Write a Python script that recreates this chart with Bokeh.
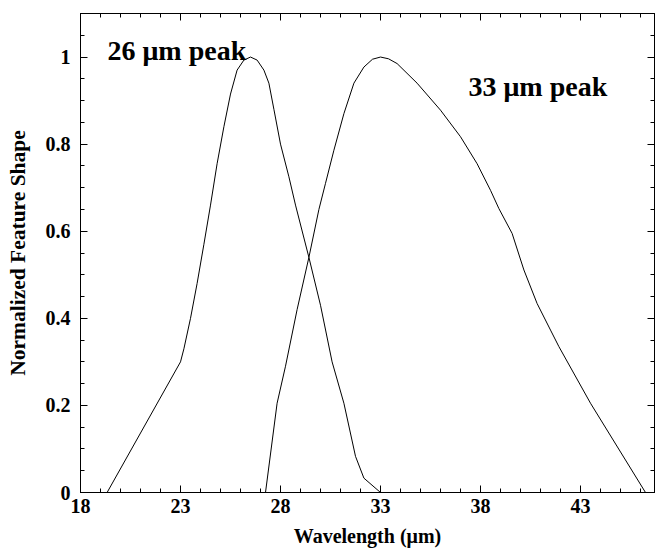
from bokeh.plotting import figure
from bokeh.models import FixedTicker, LinearAxis, Range1d, Label
from bokeh.embed import file_html
from bokeh.resources import INLINE

# 26 micron feature
x26 = [19.33, 23.0, 23.17, 23.5, 23.83, 24.17, 24.5, 24.83, 25.17, 25.5, 25.83,
       26.17, 26.5, 26.83, 27.17, 27.42, 27.67, 28.0, 28.42, 28.75, 29.42, 30.0,
       30.58, 31.17, 31.75, 32.17, 33.0]
y26 = [0.0, 0.30, 0.33, 0.40, 0.48, 0.57, 0.66, 0.755, 0.84, 0.915, 0.97,
       0.993, 1.0, 0.993, 0.97, 0.94, 0.88, 0.80, 0.725, 0.66, 0.54, 0.43,
       0.30, 0.205, 0.083, 0.033, 0.0]

# 33 micron feature
x33 = [27.25, 27.83, 28.25, 28.83, 29.42, 29.92, 30.25, 30.67, 31.17, 31.67, 32.17,
       32.6, 33.0, 33.4, 33.83, 34.83, 36.0, 37.0, 37.83, 38.5, 38.92, 39.58,
       40.17, 40.83, 41.5, 41.92, 43.5, 46.25]
y33 = [0.0, 0.205, 0.29, 0.42, 0.54, 0.65, 0.71, 0.786, 0.87, 0.94, 0.977,
       0.995, 1.0, 0.996, 0.985, 0.94, 0.878, 0.817, 0.755, 0.694, 0.652, 0.595,
       0.511, 0.434, 0.373, 0.335, 0.205, 0.0]

x_ticks = [18, 23, 28, 33, 38, 43]
x_minor = list(range(18, 47))
y_ticks = [0, 0.2, 0.4, 0.6, 0.8, 1.0]
y_tick_labels = ["0", "0.2", "0.4", "0.6", "0.8", "1"]
y_minor = [i * 0.05 for i in range(0, 23)]

labels = ["26 μm peak", "33 μm peak"]
label_x = [19.35, 37.4]
label_y = [1.015, 0.933]

FONT = "Liberation Serif"

p = figure(width=657, height=549, x_range=Range1d(18, 46.7), y_range=Range1d(0, 1.1),
           output_backend="svg", toolbar_location=None,
           min_border_left=80, min_border_right=3, min_border_top=13, min_border_bottom=0)
p.xgrid.visible = False
p.ygrid.visible = False
p.outline_line_color = "black"
p.background_fill_color = "white"
p.border_fill_color = "white"

p.line(x26, y26, line_color="black", line_width=1)
p.line(x33, y33, line_color="black", line_width=1)

def style(ax, ticks, minor, show_labels):
    ax.ticker = FixedTicker(ticks=ticks, minor_ticks=minor)
    ax.axis_line_color = "black"
    ax.axis_line_width = 1
    ax.major_tick_in = 7
    ax.major_tick_out = 0
    ax.minor_tick_in = 4
    ax.minor_tick_out = 0
    ax.major_tick_line_color = "black"
    ax.minor_tick_line_color = "black"
    if show_labels:
        ax.major_label_text_font = FONT
        ax.major_label_text_font_style = "bold"
        ax.major_label_text_font_size = "20px"
        ax.major_label_text_color = "black"
    else:
        ax.major_label_overrides = {t: "" for t in ticks}
        ax.major_label_standoff = 0
        ax.major_label_text_font_size = "1px"

xa = p.xaxis[0]
style(xa, x_ticks, x_minor, True)
xa.major_label_standoff = 6
xa.axis_label = "Wavelength (μm)"
xa.axis_label_text_font = FONT
xa.axis_label_text_font_style = "bold"
xa.axis_label_text_font_size = "20px"
xa.axis_label_text_color = "black"
xa.axis_label_standoff = 9

ya = p.yaxis[0]
style(ya, y_ticks, y_minor, True)
ya.major_label_standoff = 10
ya.major_label_overrides = {t: l for t, l in zip(y_ticks, y_tick_labels)}
ya.axis_label = "Normalized Feature Shape"
ya.axis_label_text_font = FONT
ya.axis_label_text_font_style = "bold"
ya.axis_label_text_font_size = "21.5px"
ya.axis_label_text_color = "black"
ya.axis_label_standoff = 13

top = LinearAxis()
style(top, x_ticks, x_minor, False)
p.add_layout(top, "above")
right = LinearAxis()
style(right, y_ticks, y_minor, False)
p.add_layout(right, "right")

for t, lx, ly in zip(labels, label_x, label_y):
    p.add_layout(Label(x=lx, y=ly, text=t, text_font=FONT, text_font_style="bold",
                       text_font_size="28px", text_color="black",
                       text_baseline="alphabetic", text_align="left"))

open("out.html", "w").write(file_html(p, INLINE))
